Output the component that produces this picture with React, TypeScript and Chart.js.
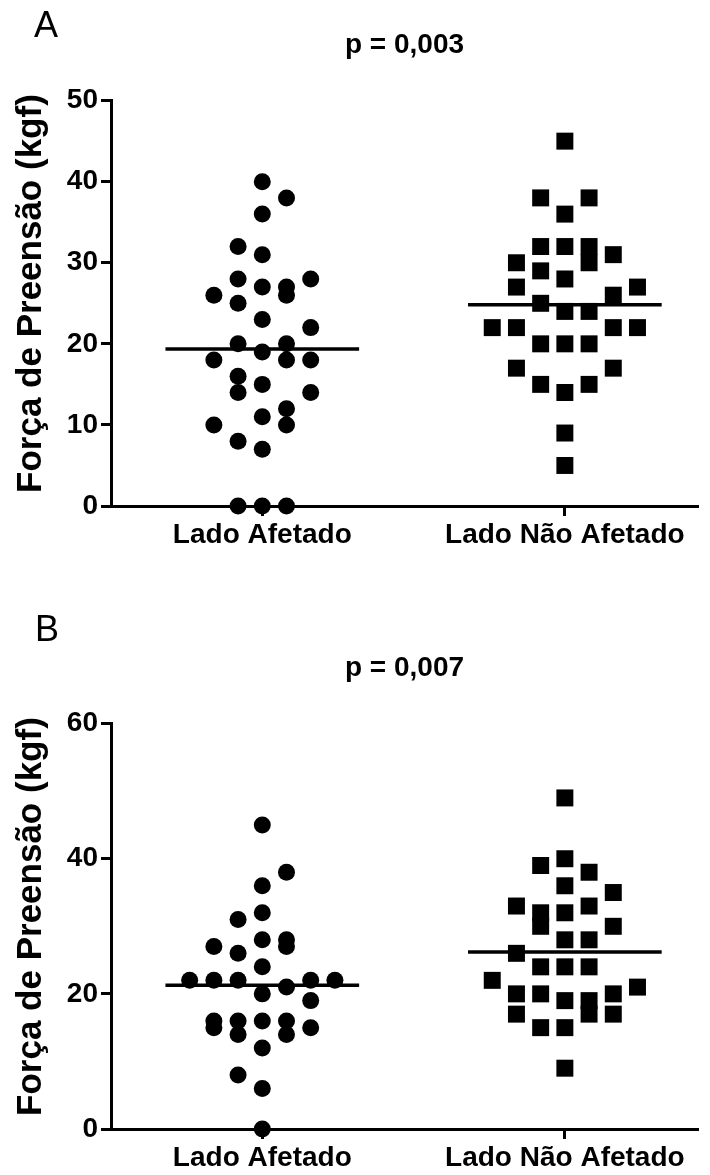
import React, { useEffect, useRef } from "react";
import { Chart, registerables } from "chart.js";

Chart.register(...registerables);

// ---------- data ----------
const categories = ["Lado Afetado", "Lado Não Afetado"];
const yAxisTitle = "  Força de Preensão (kgf)";

const pValueA = "p = 0,003";
const pValueB = "p = 0,007";

// Panel A – Lado Afetado (circles) and swarm column of each point
const afetadoA = [40, 38, 36, 32, 31, 28, 28, 27, 27, 26, 26, 25, 23, 22, 20, 20, 19, 18, 18, 18, 16, 15, 14, 14, 12, 11, 10, 10, 8, 7, 0, 0, 0];
const afetadoASlots = [0, 1, 0, -1, 0, -1, 2, 0, 1, -2, 1, -1, 0, 2, -1, 1, 0, -2, 1, 2, -1, 0, -1, 2, 1, 0, -2, 1, -1, 0, -1, 0, 1];

// Panel A – Lado Não Afetado (squares)
const naoAfetadoA = [45, 38, 38, 36, 32, 32, 32, 31, 30, 30, 29, 28, 27, 27, 26, 25, 24, 24, 22, 22, 22, 22, 20, 20, 20, 17, 17, 15, 15, 14, 9, 5];
const naoAfetadoASlots = [0, -1, 1, 0, -1, 0, 1, 2, -2, 1, -1, 0, -2, 3, 2, -1, 0, 1, -3, -2, 2, 3, -1, 0, 1, -2, 2, -1, 1, 0, 0, 0];

// Panel B – Lado Afetado (circles)
const afetadoB = [45, 38, 36, 32, 31, 28, 28, 27, 27, 26, 24, 22, 22, 22, 22, 22, 21, 20, 19, 16, 16, 16, 16, 15, 15, 14, 14, 12, 8, 6, 0];
const afetadoBSlots = [0, 1, 0, 0, -1, 0, 1, 1, -2, -1, 0, -3, -2, -1, 2, 3, 1, 0, 2, -2, -1, 0, 1, -2, 2, -1, 1, 0, -1, 0, 0];

// Panel B – Lado Não Afetado (squares)
const naoAfetadoB = [49, 40, 39, 38, 36, 35, 33, 33, 32, 32, 30, 30, 28, 28, 26, 24, 24, 24, 22, 21, 20, 20, 20, 19, 19, 17, 17, 17, 15, 15, 9];
const naoAfetadoBSlots = [0, 0, -1, 1, 0, 2, -2, 1, -1, 0, -1, 2, 0, 1, -2, -1, 0, 1, -3, 3, -2, -1, 2, 0, 1, -2, 1, 2, -1, 0, 0];

// axis ranges
const yMaxA = 50;
const yStepA = 10;
const yMaxB = 60;
const yStepB = 20;

// ---------- presentation ----------
const FONT = "Arial, 'Liberation Sans', Helvetica, sans-serif";
const SLOT_STEP = 0.08; // horizontal spacing of swarm columns (x units)
const MEAN_HALF = 0.32; // half width of mean line (x units)

type PanelProps = {
  pValue: string;
  left: number[];
  leftSlots: number[];
  right: number[];
  rightSlots: number[];
  yMax: number;
  yStep: number;
  width: number;
  height: number;
  bottomPad: number;
  top: number;
};

function mean(a: number[]) {
  return a.reduce((s, v) => s + v, 0) / a.length;
}

function Panel(p: PanelProps) {
  const ref = useRef<HTMLCanvasElement>(null);
  useEffect(() => {
    if (!ref.current) return;
    const toPts = (vals: number[], slots: number[], c: number) =>
      vals.map((v, i) => ({ x: c + slots[i] * SLOT_STEP, y: v }));
    const meanLine = (vals: number[], c: number) => {
      const m = mean(vals);
      return [
        { x: c - MEAN_HALF, y: m },
        { x: c + MEAN_HALF, y: m },
      ];
    };
    const tickFont = { family: FONT, size: 28, weight: "bold" as const };
    const chart = new Chart(ref.current, {
      type: "scatter",
      data: {
        datasets: [
          {
            data: toPts(p.left, p.leftSlots, 1),
            pointStyle: "circle",
            pointRadius: 8.5,
            pointBackgroundColor: "#000",
            pointBorderColor: "#000",
            pointBorderWidth: 0,
            clip: false,
          },
          {
            data: toPts(p.right, p.rightSlots, 2),
            pointStyle: "rect",
            pointRadius: 12,
            pointBackgroundColor: "#000",
            pointBorderColor: "#000",
            pointBorderWidth: 0,
            clip: false,
          },
          {
            type: "line",
            data: meanLine(p.left, 1),
            borderColor: "#000",
            borderWidth: 3.5,
            pointRadius: 0,
            showLine: true,
            clip: false,
          } as any,
          {
            type: "line",
            data: meanLine(p.right, 2),
            borderColor: "#000",
            borderWidth: 3.5,
            pointRadius: 0,
            showLine: true,
            clip: false,
          } as any,
        ],
      },
      options: {
        responsive: false,
        animation: false,
        events: [],
        layout: { padding: { top: 27, left: 0, right: 10, bottom: p.bottomPad } },
        plugins: {
          legend: { display: false },
          tooltip: { enabled: false },
          title: {
            display: true,
            text: p.pValue,
            color: "#000",
            fullSize: false,
            font: { family: FONT, size: 28, weight: "bold" },
            padding: { top: 1, bottom: 39 },
          },
        },
        scales: {
          x: {
            type: "linear",
            min: 0.5,
            max: 2.44,
            afterBuildTicks: (s: any) => {
              s.ticks = [{ value: 1 }, { value: 2 }];
            },
            afterFit: (s: any) => {
              s.height = 40;
            },
            ticks: {
              callback: (v: any) => categories[Number(v) - 1],
              color: "#000",
              font: { family: FONT, size: 28, weight: "bold" },
              padding: 2,
              maxRotation: 0,
              autoSkip: false,
            },
            grid: {
              drawOnChartArea: false,
              drawTicks: true,
              tickLength: 10,
              tickWidth: 3,
              tickColor: "#000",
              color: "#000",
            },
            border: { display: true, color: "#000", width: 3 },
          },
          y: {
            min: 0,
            max: p.yMax,
            afterFit: (s: any) => {
              s.width = 111;
            },
            ticks: {
              stepSize: p.yStep,
              color: "#000",
              font: tickFont,
              padding: 3,
            },
            grid: {
              drawOnChartArea: false,
              drawTicks: true,
              tickLength: 10,
              tickWidth: 3,
              tickColor: "#000",
              color: "#000",
            },
            border: { display: true, color: "#000", width: 3 },
            title: {
              display: true,
              text: yAxisTitle,
              color: "#000",
              font: { family: FONT, size: 35, weight: "bold" },
              padding: { top: 10, bottom: 0 },
            },
          },
        },
      } as any,
    });
    return () => chart.destroy();
  }, []);
  return (
    <canvas
      ref={ref}
      width={p.width}
      height={p.height}
      style={{ position: "absolute", left: 0, top: p.top, display: "block" }}
    />
  );
}

const letterStyle: React.CSSProperties = {
  position: "absolute",
  fontFamily: FONT,
  fontSize: 36,
  lineHeight: 1,
  color: "#000",
};

export default function App() {
  return (
    <div
      style={{
        position: "absolute",
        left: 0,
        top: 0,
        width: 710,
        height: 1175,
        background: "#fff",
        overflow: "hidden",
      }}
    >
      <Panel
        pValue={pValueA}
        left={afetadoA}
        leftSlots={afetadoASlots}
        right={naoAfetadoA}
        rightSlots={naoAfetadoASlots}
        yMax={yMaxA}
        yStep={yStepA}
        width={710}
        height={590}
        bottomPad={44}
        top={0}
      />
      <Panel
        pValue={pValueB}
        left={afetadoB}
        leftSlots={afetadoBSlots}
        right={naoAfetadoB}
        rightSlots={naoAfetadoBSlots}
        yMax={yMaxB}
        yStep={yStepB}
        width={710}
        height={552}
        bottomPad={6}
        top={623}
      />
      <div style={{ ...letterStyle, left: 34, top: 7 }}>A</div>
      <div style={{ ...letterStyle, left: 35, top: 611 }}>B</div>
    </div>
  );
}
